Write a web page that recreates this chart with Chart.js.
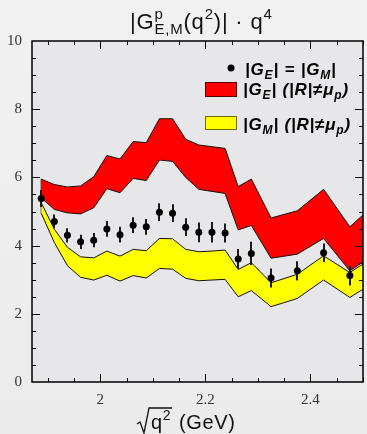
<!DOCTYPE html>
<html>
<head>
<meta charset="utf-8">
<script src="https://cdn.jsdelivr.net/npm/chart.js@4.4.0/dist/chart.umd.min.js"></script>
<style>
  html, body { margin: 0; padding: 0; background: #eeeeef; }
</style>
</head>
<body>
<canvas id="myChart" width="367" height="434"></canvas>
<script>
// data points |GE| = |GM|
var xs = [1.8875, 1.9125, 1.9375, 1.9625, 1.9875, 2.0125, 2.0375, 2.0625, 2.0875, 2.1125, 2.1375,
          2.1625, 2.1875, 2.2125, 2.2375, 2.2625, 2.2875, 2.325, 2.375, 2.425, 2.475]
var gVal = [5.38, 4.71, 4.30, 4.11, 4.16, 4.49, 4.32, 4.60, 4.55, 4.98, 4.95,
            4.54, 4.39, 4.39, 4.37, 3.61, 3.77, 3.05, 3.26, 3.79, 3.12]
var gErr = [0.25, 0.20, 0.21, 0.21, 0.21, 0.23, 0.23, 0.23, 0.23, 0.26, 0.26,
            0.26, 0.29, 0.30, 0.28, 0.29, 0.34, 0.28, 0.28, 0.27, 0.29]

// bands
var bandX = [1.8875, 1.9125, 1.9375, 1.9625, 1.9875, 2.0125, 2.0375, 2.0625, 2.0875, 2.1125, 2.1375,
             2.1625, 2.1875, 2.2125, 2.2375, 2.2625, 2.2875, 2.325, 2.375, 2.425, 2.475, 2.5]
var geHigh = [5.95, 5.79, 5.72, 5.75, 6.02, 6.64, 6.54, 7.05, 7.02, 7.72, 7.72,
              7.12, 6.95, 6.90, 6.85, 5.73, 5.95, 4.81, 5.02, 5.65, 4.55, 4.90]
var geLow  = [5.40, 5.06, 4.96, 4.93, 5.11, 5.67, 5.55, 5.97, 5.91, 6.51, 6.47,
              6.00, 5.65, 5.59, 5.53, 4.46, 4.59, 3.63, 3.75, 4.21, 3.26, 3.52]
var gmHigh = [5.26, 4.48, 3.95, 3.67, 3.64, 3.84, 3.69, 3.89, 3.85, 4.21, 4.20,
              3.89, 3.82, 3.84, 3.87, 3.30, 3.50, 2.91, 3.16, 3.70, 3.21, 3.46]
var gmLow  = [4.95, 4.09, 3.41, 3.07, 2.99, 3.13, 2.96, 3.12, 3.05, 3.33, 3.31,
              3.04, 2.97, 2.99, 3.01, 2.50, 2.68, 2.21, 2.45, 2.99, 2.48, 2.72]

// ticks
var xTicks = [2, 2.2, 2.4]
var xTickLabels = ['2', '2.2', '2.4']
var yTicks = [0, 2, 4, 6, 8, 10]

function pts(xv, yv) {
    var out = []
    for (var i = 0; i < xv.length; i++) out.push({ x: xv[i], y: yv[i] })
    return out
}
function edge(i, lo, hi) {
    return [{ x: bandX[i], y: lo[i] }, { x: bandX[i], y: hi[i] }]
}

var sans = '"Liberation Sans", Arial, sans-serif'
var serif = '"Liberation Serif", "Times New Roman", serif'

// draws a run of text pieces; a piece with "stack" puts two pieces on the same x
function drawParts(ctx, x, y, parts) {
    parts.forEach(function (p) {
        if (p.stack) {
            var w = 0
            p.stack.forEach(function (s) {
                ctx.font = s.f
                ctx.fillText(s.t, x, y + (s.dy || 0))
                w = Math.max(w, ctx.measureText(s.t).width)
            })
            x += w
        } else {
            ctx.font = p.f
            ctx.fillText(p.t, x, y + (p.dy || 0))
            x += ctx.measureText(p.t).width
        }
    })
    return x
}

var decor = {
    id: 'decor',
    beforeDraw: function (chart) {
        var ctx = chart.ctx, a = chart.chartArea
        ctx.save()
        var g = ctx.createLinearGradient(0, 0, 0, 434)
        g.addColorStop(0, '#f1f1f2')
        g.addColorStop(1, '#ebebec')
        ctx.fillStyle = g
        ctx.fillRect(0, 0, chart.width, chart.height)
        ctx.fillStyle = '#e7e7e9'
        ctx.fillRect(a.left, a.top, a.right - a.left, a.bottom - a.top)
        ctx.restore()
    },
    beforeDatasetDraw: function (chart, args) {
        if (args.index !== 0) return
        var ctx = chart.ctx, sx = chart.scales.x, sy = chart.scales.y
        ctx.save()
        ctx.strokeStyle = '#1a1a1a'
        ctx.lineWidth = 2
        for (var i = 0; i < xs.length; i++) {
            var px = Math.round(sx.getPixelForValue(xs[i]))
            ctx.beginPath()
            ctx.moveTo(px, sy.getPixelForValue(gVal[i] - gErr[i]))
            ctx.lineTo(px, sy.getPixelForValue(gVal[i] + gErr[i]))
            ctx.stroke()
        }
        ctx.restore()
    },
    afterDraw: function (chart) {
        var ctx = chart.ctx, a = chart.chartArea, sx = chart.scales.x, sy = chart.scales.y
        ctx.save()
        // frame
        ctx.strokeStyle = '#000'
        ctx.lineWidth = 1.5
        ctx.strokeRect(a.left, a.top, a.right - a.left, a.bottom - a.top)
        ctx.lineWidth = 1
        ctx.beginPath()
        for (var v = 1.9; v < 2.5; v += 0.05) {
            var px = Math.round(sx.getPixelForValue(v)) + 0.5
            var major = Math.abs(v * 10 - Math.round(v * 10)) < 0.01 && Math.round(v * 10) % 2 === 0
            var len = major ? 8 : 4
            ctx.moveTo(px, a.bottom); ctx.lineTo(px, a.bottom - len)
            ctx.moveTo(px, a.top); ctx.lineTo(px, a.top + len)
        }
        for (var w = 0.5; w < 10; w += 0.5) {
            var py = Math.round(sy.getPixelForValue(w)) + 0.5
            var l2 = (w % 2 === 0) ? 8 : 4
            ctx.moveTo(a.left, py); ctx.lineTo(a.left + l2, py)
            ctx.moveTo(a.right, py); ctx.lineTo(a.right - l2, py)
        }
        ctx.stroke()

        // tick labels
        ctx.fillStyle = '#333'
        ctx.font = '15px ' + serif
        ctx.textAlign = 'right'
        ctx.textBaseline = 'middle'
        yTicks.forEach(function (t) {
            ctx.fillText(String(t), 22, sy.getPixelForValue(t))
        })
        ctx.textAlign = 'center'
        ctx.textBaseline = 'alphabetic'
        xTicks.forEach(function (t, i) {
            ctx.fillText(xTickLabels[i], sx.getPixelForValue(t), 404)
        })

        // title
        ctx.textAlign = 'left'
        ctx.fillStyle = '#111'
        ctx.letterSpacing = '0.8px'
        var big = '22px ' + sans, small = '15px ' + sans
        drawParts(ctx, 130, 29, [
            { t: '|G', f: big },
            { stack: [{ t: 'p', f: small, dy: -10 }, { t: 'E,M', f: small, dy: 5 }] },
            { t: '(q', f: big },
            { t: '2', f: small, dy: -10 },
            { t: ')| \u00b7 q', f: big },
            { t: '4', f: small, dy: -10 }
        ])

        // x axis title with square root
        ctx.letterSpacing = '0.6px'
        var xf = '20px ' + sans, xs2 = '14px ' + sans
        var endQ = drawParts(ctx, 151, 429, [{ t: 'q', f: xf }, { t: '2', f: xs2, dy: -9 }])
        drawParts(ctx, endQ + 8, 429, [{ t: '(GeV)', f: xf }])
        ctx.strokeStyle = '#111'
        ctx.lineWidth = 1.3
        ctx.beginPath()
        ctx.moveTo(137, 424); ctx.lineTo(140, 422)
        ctx.lineTo(144, 433); ctx.lineTo(149, 408)
        ctx.lineTo(endQ + 1, 408)
        ctx.stroke()

        // legend
        ctx.letterSpacing = '0.8px'
        var lf = 'italic bold 17px ' + sans, ls = 'italic bold 12px ' + sans
        ctx.fillStyle = '#000'
        ctx.beginPath()
        ctx.arc(231, 68, 3.5, 0, Math.PI * 2)
        ctx.fill()
        drawParts(ctx, 245, 75, [
            { t: '|G', f: lf }, { t: 'E', f: ls, dy: 4 }, { t: '| = |G', f: lf },
            { t: 'M', f: ls, dy: 4 }, { t: '|', f: lf }
        ])
        ctx.fillStyle = '#ff0000'
        ctx.fillRect(205, 82, 32, 15)
        ctx.strokeStyle = '#500000'
        ctx.lineWidth = 1
        ctx.strokeRect(205.5, 82.5, 31, 14)
        ctx.fillStyle = '#000'
        drawParts(ctx, 243, 95, [
            { t: '|G', f: lf }, { t: 'E', f: ls, dy: 4 }, { t: '| (|R|\u2260\u03bc', f: lf },
            { t: 'p', f: ls, dy: 4 }, { t: ')', f: lf }
        ])
        ctx.fillStyle = '#ffff00'
        ctx.fillRect(205, 116, 32, 14)
        ctx.strokeStyle = '#707000'
        ctx.strokeRect(205.5, 116.5, 31, 13)
        ctx.fillStyle = '#000'
        drawParts(ctx, 243, 130, [
            { t: '|G', f: lf }, { t: 'M', f: ls, dy: 4 }, { t: '| (|R|\u2260\u03bc', f: lf },
            { t: 'p', f: ls, dy: 4 }, { t: ')', f: lf }
        ])
        ctx.letterSpacing = '0px'
        ctx.restore()
    }
}

var bandLine = { borderColor: '#111', borderWidth: 1, pointRadius: 0, tension: 0 }

var ctx = document.getElementById('myChart')
var myChart = new Chart(ctx, {
    type: 'line',
    data: {
        datasets: [
            { data: pts(xs, gVal), showLine: false, pointRadius: 3.5, pointBackgroundColor: '#000',
              pointBorderWidth: 0, order: 0 },
            Object.assign({ data: pts(bandX, geLow), fill: false, order: 1 }, bandLine),
            Object.assign({ data: pts(bandX, geHigh), fill: '-1', backgroundColor: '#ff0000', order: 1 }, bandLine),
            Object.assign({ data: pts(bandX, gmLow), fill: false, order: 2 }, bandLine),
            Object.assign({ data: pts(bandX, gmHigh), fill: '-1', backgroundColor: '#ffff00', order: 2 }, bandLine),
            Object.assign({ data: edge(0, geLow, geHigh), fill: false, order: 1 }, bandLine),
            Object.assign({ data: edge(0, gmLow, gmHigh), fill: false, order: 2 }, bandLine)
        ]
    },
    options: {
        responsive: false,
        animation: false,
        layout: { padding: { left: 32, top: 41, right: 2, bottom: 52 } },
        plugins: { legend: { display: false }, tooltip: { enabled: false } },
        scales: {
            x: { type: 'linear', min: 1.87, max: 2.5, display: false },
            y: { type: 'linear', min: 0, max: 10, display: false }
        }
    },
    plugins: [decor]
})
</script>
</body>
</html>
